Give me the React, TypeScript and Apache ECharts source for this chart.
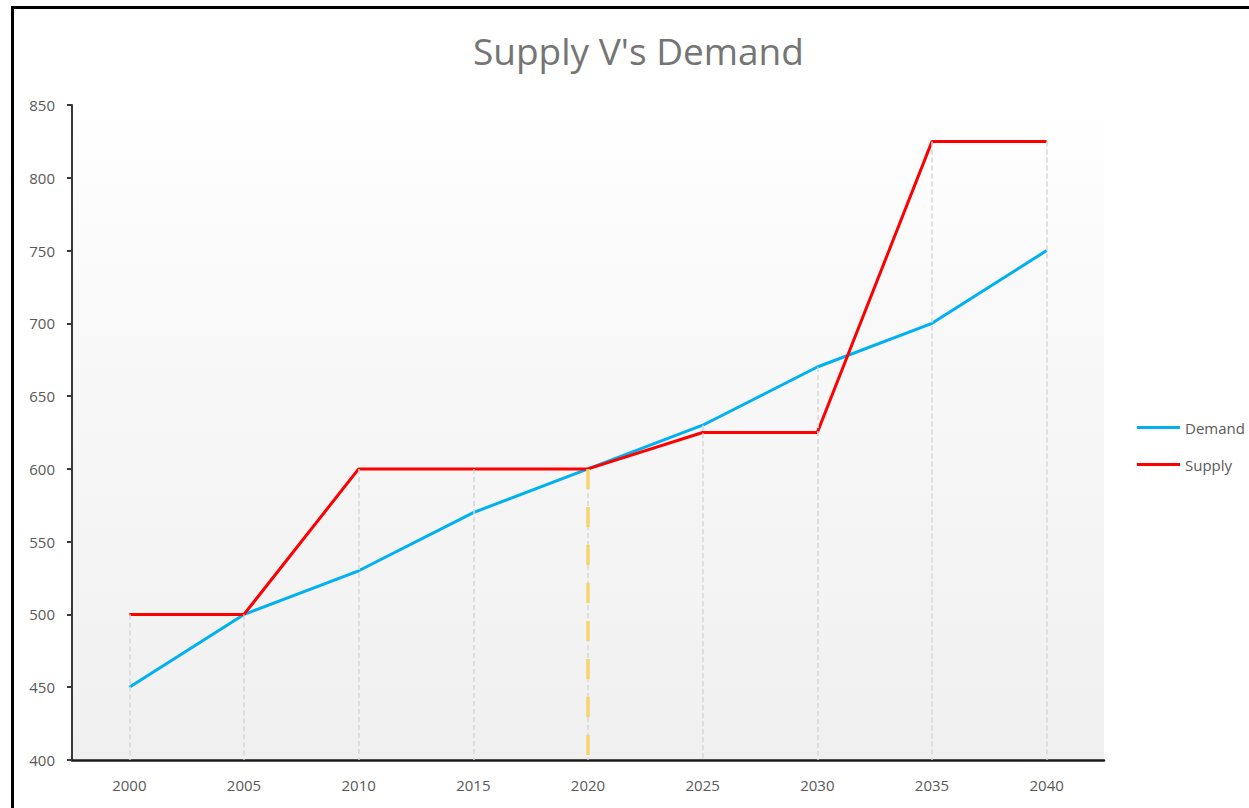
import React, { useEffect, useRef } from "react";
import * as echarts from "echarts";

const years = ["2000", "2005", "2010", "2015", "2020", "2025", "2030", "2035", "2040"];
const demand = [450, 500, 530, 570, 600, 630, 670, 700, 750];
const supply = [500, 500, 600, 600, 600, 625, 625, 825, 825];
const yTicks = { min: 400, max: 850, interval: 50 };
const markerYear = "2020";

export default function App() {
  const ref = useRef<HTMLDivElement>(null);
  useEffect(() => {
    if (!ref.current) return;
    const chart = echarts.init(ref.current, null, { renderer: "svg" });
    const font = "'Open Sans', 'Noto Sans', sans-serif";
    const dropData = years.map((y, i) => [
      { coord: [y, Math.max(demand[i], supply[i])] },
      { coord: [y, yTicks.min] },
    ]);
    const mIdx = years.indexOf(markerYear);
    const markerData = [
      [
        { coord: [markerYear, Math.min(demand[mIdx], supply[mIdx])] },
        { coord: [markerYear, yTicks.min] },
      ],
    ];
    chart.setOption({
      animation: false,
      backgroundColor: "#ffffff",
      title: {
        text: "Supply V's Demand",
        left: 473,
        top: 32,
        padding: 0,
        textStyle: { fontFamily: font, fontSize: 37, fontWeight: "normal", color: "#757575" },
      },
      legend: {
        data: [
          { name: "Demand", icon: "rect" },
          { name: "Supply", icon: "rect" },
        ],
        orient: "vertical",
        left: 1137,
        top: 417,
        padding: 0,
        itemWidth: 43,
        itemHeight: 3,
        itemGap: 16,
        textStyle: { fontFamily: font, fontSize: 15, color: "#595959", lineHeight: 21 },
      },
      grid: {
        left: 72,
        right: 145,
        top: 105,
        bottom: 48,
        show: true,
        borderWidth: 0,
        backgroundColor: new echarts.graphic.LinearGradient(0, 0, 0, 1, [
          { offset: 0, color: "#ffffff" },
          { offset: 0.3, color: "#f9f9f9" },
          { offset: 1, color: "#f0f0f0" },
        ]),
      },
      xAxis: {
        type: "category",
        data: years,
        boundaryGap: true,
        axisLine: { lineStyle: { color: "#1a1a1a", width: 2.5 } },
        axisTick: { alignWithLabel: true, length: 3, lineStyle: { color: "#1a1a1a", width: 2 } },
        axisLabel: { margin: 17, fontFamily: font, fontSize: 15, color: "#595959" },
        splitLine: { show: false },
      },
      yAxis: {
        type: "value",
        min: yTicks.min,
        max: yTicks.max,
        interval: yTicks.interval,
        axisLine: { show: true, lineStyle: { color: "#3a3a3a", width: 2 } },
        axisTick: { show: true, length: 5, lineStyle: { color: "#3a3a3a", width: 2 } },
        axisLabel: { margin: 17, fontFamily: font, fontSize: 15, color: "#595959" },
        splitLine: { show: false },
      },
      graphic: [
        {
          type: "rect",
          shape: { x: 12.5, y: 7.5, width: 1400, height: 1000 },
          style: { fill: "none", stroke: "#000000", lineWidth: 3 },
          silent: true,
          z: 100,
        },
      ],
      series: [
        {
          name: "drops",
          type: "line",
          data: [],
          z: 1,
          silent: true,
          markLine: {
            silent: true,
            symbol: ["none", "none"],
            label: { show: false },
            lineStyle: { color: "#d6d6d6", width: 1.5, type: [5, 3] },
            data: dropData,
          },
        },
        {
          name: "marker",
          type: "line",
          data: [],
          z: 2,
          silent: true,
          markLine: {
            silent: true,
            symbol: ["none", "none"],
            label: { show: false },
            lineStyle: { color: "#f8d46f", width: 3.5, type: [20, 18] },
            data: markerData,
          },
        },
        {
          name: "Demand",
          type: "line",
          data: demand,
          symbol: "none",
          z: 3,
          lineStyle: { color: "#00b0f0", width: 3 },
          itemStyle: { color: "#00b0f0" },
        },
        {
          name: "Supply",
          type: "line",
          data: supply,
          symbol: "none",
          z: 4,
          lineStyle: { color: "#ff0000", width: 3 },
          itemStyle: { color: "#ff0000" },
        },
      ],
    });
    return () => chart.dispose();
  }, []);
  return (
    <div
      ref={ref}
      style={{ position: "absolute", left: 0, top: 0, width: 1249, height: 808 }}
    />
  );
}
